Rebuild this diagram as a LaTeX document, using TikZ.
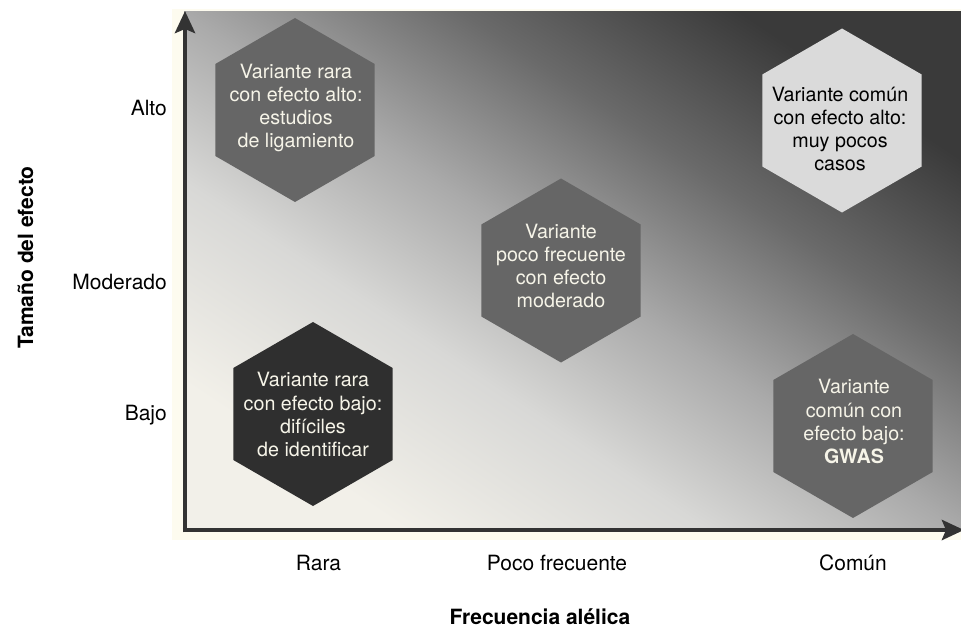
\documentclass[tikz,border=0pt]{standalone}
\usepackage{fontspec}
\setmainfont{TeX Gyre Heros}
\usetikzlibrary{shapes.geometric,arrows.meta}
\definecolor{cream}{HTML}{FDFBEF}
\definecolor{bglight}{HTML}{F2F0E9}
\definecolor{bgqa}{HTML}{D8D8D6}
\definecolor{bgmid}{HTML}{AAAAAA}
\definecolor{bgqb}{HTML}{6A6A6A}
\definecolor{bgdark}{HTML}{3A3A3A}
\definecolor{hexmid}{HTML}{666666}
\definecolor{hexdark}{HTML}{2F2F2F}
\definecolor{hexlight}{HTML}{DADADA}
\definecolor{txtlight}{HTML}{F6F4E8}
\definecolor{axiscol}{HTML}{333333}
\pgfdeclareverticalshading{bgshade}{100bp}{color(0bp)=(bglight); color(41bp)=(bglight); color(45.9bp)=(bgqa); color(50bp)=(bgmid); color(54.5bp)=(bgqb); color(59bp)=(bgdark); color(100bp)=(bgdark)}
\begin{document}
\begin{tikzpicture}[x=1bp,y=-1bp,
  hexa/.style={regular polygon, regular polygon sides=6, shape border rotate=30, minimum size=184bp, inner sep=0pt, draw=none},
  hextext/.style={align=center, inner sep=0pt, font=\fontsize{19.7bp}{23.3bp}\selectfont, text=txtlight},
  axislabel/.style={inner sep=0pt, font=\fontsize{21bp}{25bp}\selectfont, text=black},
  axistitle/.style={inner sep=0pt, font=\fontsize{21bp}{25bp}\selectfont\bfseries, text=black},
  axisline/.style={line width=4.5bp, draw=axiscol, -{Stealth[length=22bp,width=20bp,inset=4bp]}}
]
\useasboundingbox (0,0) rectangle (961,629);
\fill[white] (0,0) rectangle (961,629);
\fill[cream] (172,9) rectangle (961,540);
\begin{scope}
  \clip (184,12) rectangle (961,530);
  \shade[shading=bgshade, shading angle=-33.6] (-289,-590.5) rectangle (1434,1132.5);
\end{scope}

% hexagons
\node[hexa, fill=hexmid]   (h1) at (295,110) {};
\node[hexa, fill=hexmid]   (h2) at (561,270.5) {};
\node[hexa, fill=hexlight] (h3) at (842,120.5) {};
\node[hexa, fill=hexdark]  (h4) at (313,414) {};
\node[hexa, fill=hexmid]   (h5) at (853,426) {};

\node[hextext] (t1) at (296,108) {Variante rara\\con efecto alto:\\estudios\\de ligamiento};
\node[hextext] (t2) at (561,266) {Variante\\poco frecuente\\con efecto\\moderado};
\node[hextext, text=black] (t3) at (840,129) {Variante común\\con efecto alto:\\muy pocos\\casos};
\node[hextext] (t4) at (313,414.7) {Variante rara\\con efecto bajo:\\difíciles\\de identificar};
\node[hextext] (t5) at (854,421.8) {Variante\\común con\\efecto bajo:\\\textbf{GWAS}};

% axes
\coordinate (Oy) at (185,532.25);
\coordinate (Ox) at (182.75,530);
\coordinate (ytip) at (185,11);
\coordinate (xtip) at (964,530);
\draw[axisline] (Oy) -- (ytip);
\draw[axisline] (Ox) -- (xtip);

% labels
\node[axislabel, anchor=base east] (alto) at (167,116) {Alto};
\node[axislabel, anchor=base east] (moderado) at (167,289) {Moderado};
\node[axislabel, anchor=base east] (bajo) at (167,420) {Bajo};
\node[axislabel, anchor=base] (rara) at (318.5,570.5) {Rara};
\node[axislabel, anchor=base] (poco) at (557,570.5) {Poco frecuente};
\node[axislabel, anchor=base] (comun) at (853,570.5) {Común};
\node[axistitle, anchor=base] (freq) at (540,624.5) {Frecuencia alélica};
\node[axistitle, anchor=base, rotate=90] (tam) at (33,257.5) {Tamaño del efecto};
\end{tikzpicture}
\end{document}
